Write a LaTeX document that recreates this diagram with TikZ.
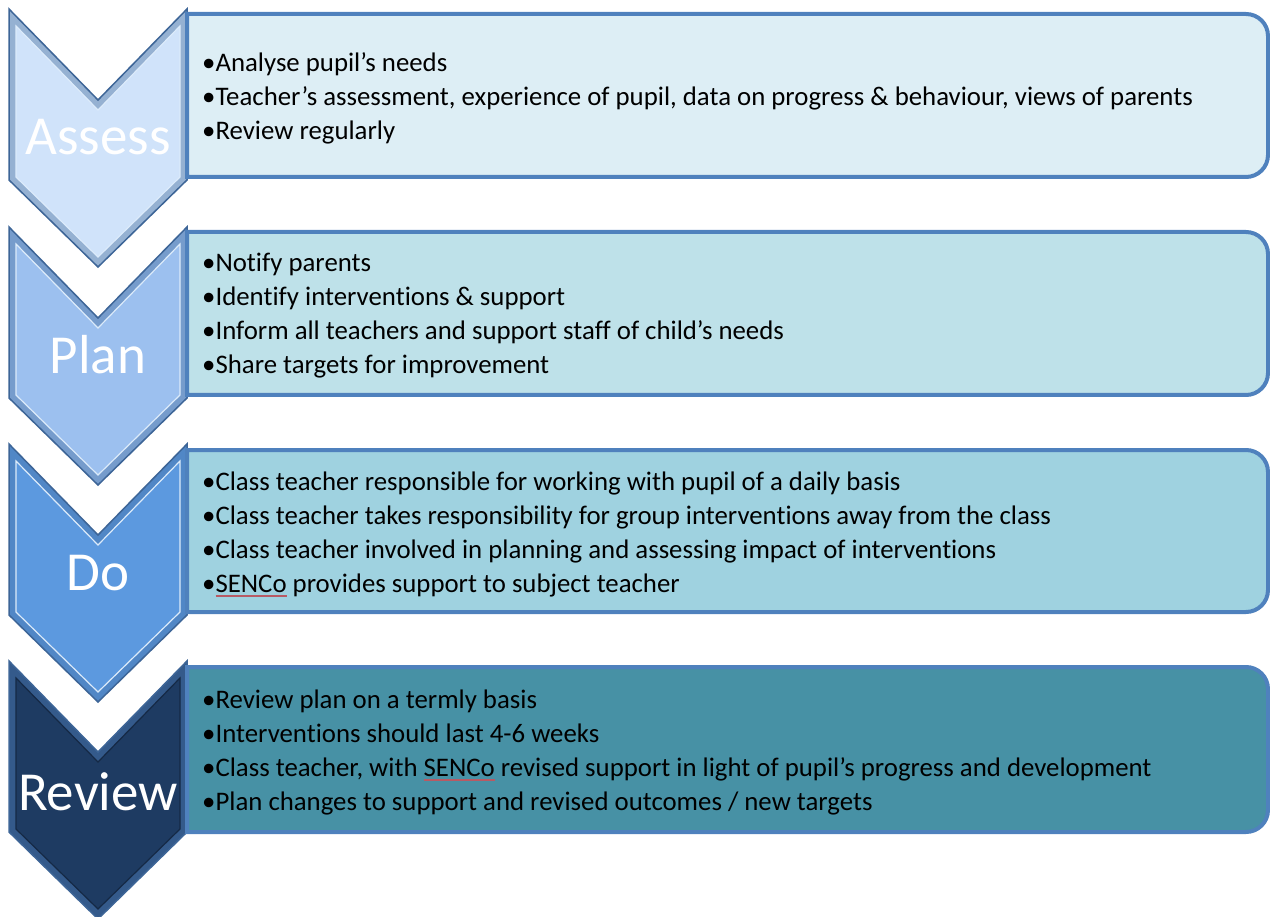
\documentclass[tikz,border=0pt]{standalone}
\usepackage{fontspec}
\setmainfont{Carlito}[Ligatures=CommonOff]
\definecolor{rimdark}{HTML}{3D6597}
\definecolor{rimlight}{HTML}{DCEBFA}
\definecolor{boxline}{HTML}{4F81BD}
\definecolor{assessfill}{HTML}{D0E3FA}
\definecolor{planfill}{HTML}{9CC0EF}
\definecolor{dofill}{HTML}{5C99DF}
\definecolor{reviewfill}{HTML}{1E3B62}
\definecolor{assessbox}{HTML}{DDEEF5}
\definecolor{planbox}{HTML}{BEE1E9}
\definecolor{dobox}{HTML}{9FD2E0}
\definecolor{reviewbox}{HTML}{4791A5}
\definecolor{spellred}{HTML}{B85A64}
\newcommand{\spellmark}[1]{\setbox0\hbox{#1}\rlap{\color{spellred}\rule[-4.5pt]{\wd0}{1.4pt}}\box0\relax}
\begin{document}
\begin{tikzpicture}[x=1pt,y=-1pt,
	chevron/.style={draw=rimdark,line width=1.5pt,line join=miter},
	chevroninner/.style={draw=rimlight,line width=1.2pt,line join=miter},
	stepbox/.style={draw=boxline,line width=4pt},
	steplabel/.style={text=white,font=\fontsize{55}{60}\selectfont,inner sep=0pt},
	steptext/.style={anchor=west,align=left,inner sep=0pt,font=\fontsize{26.8}{34}\selectfont}]
	\useasboundingbox (0,0) rectangle (1270,917);

	% Assess
	\draw[chevron,fill=assessfill!60!rimdark] (9,9) -- (98,100) -- (187,9) -- (187,180) -- (98,267) -- (9,180) -- cycle;
	\draw[chevroninner,fill=assessfill] (16,26) -- (98,110) -- (180,26) -- (180,177) -- (98,257) -- (16,177) -- cycle;
	\node[steplabel] (assess) at (98,137) {Assess};

	% Plan
	\draw[chevron,fill=planfill!60!rimdark] (9,227) -- (98,318) -- (187,227) -- (187,398) -- (98,485) -- (9,398) -- cycle;
	\draw[chevroninner,fill=planfill] (16,244) -- (98,328) -- (180,244) -- (180,395) -- (98,475) -- (16,395) -- cycle;
	\node[steplabel] (plan) at (98,355) {Plan};

	% Do
	\draw[chevron,fill=dofill!65!rimdark] (9,444) -- (98,535) -- (187,444) -- (187,615) -- (98,702) -- (9,615) -- cycle;
	\draw[chevroninner,fill=dofill] (16,461) -- (98,545) -- (180,461) -- (180,612) -- (98,692) -- (16,612) -- cycle;
	\node[steplabel] (do) at (98,573) {Do};

	% Review
	\draw[chevron,fill=reviewfill!55!boxline] (9,661) -- (98,752) -- (187,661) -- (187,832) -- (98,919) -- (9,832) -- cycle;
	\draw[draw=reviewfill!70!black,line width=1.2pt,fill=reviewfill] (16,678) -- (98,762) -- (180,678) -- (180,829) -- (98,909) -- (16,829) -- cycle;
	\node[steplabel] (review) at (98,792) {Review};

	% boxes, square on the left, rounded on the right
	\draw[stepbox,fill=assessbox] (187,177) -- (187,14) -- (1246,14) arc[start angle=90,end angle=0,radius=22pt] -- (1268,155) arc[start angle=0,end angle=-90,radius=22pt] -- cycle;
	\draw[stepbox,fill=planbox] (187,395) -- (187,232) -- (1246,232) arc[start angle=90,end angle=0,radius=22pt] -- (1268,373) arc[start angle=0,end angle=-90,radius=22pt] -- cycle;
	\draw[stepbox,fill=dobox] (187,612) -- (187,450) -- (1246,450) arc[start angle=90,end angle=0,radius=22pt] -- (1268,590) arc[start angle=0,end angle=-90,radius=22pt] -- cycle;
	\draw[stepbox,fill=reviewbox] (187,832) -- (187,667) -- (1246,667) arc[start angle=90,end angle=0,radius=22pt] -- (1268,810) arc[start angle=0,end angle=-90,radius=22pt] -- cycle;

	\node[steptext] (assesstext) at (202,98) {•Analyse pupil’s needs\\•Teacher’s assessment, experience of pupil, data on progress \& behaviour, views of parents\\•Review regularly};
	\node[steptext] (plantext) at (202,316) {•Notify parents\\•Identify interventions \& support\\•Inform all teachers and support staff of child{\char39}s needs\\•Share targets for improvement};
	\node[steptext] (dotext) at (202,534) {•Class teacher responsible for working with pupil of a daily basis\\•Class teacher takes responsibility for group interventions away from the class\\•Class teacher involved in planning and assessing impact of interventions\\•\spellmark{SENCo} provides support to subject teacher};
	\node[steptext] (reviewtext) at (202,752) {•Review plan on a termly basis\\•Interventions should last 4-6 weeks\\•Class teacher, with \spellmark{SENCo} revised support in light of pupil’s progress and development\\•Plan changes to support and revised outcomes / new targets};
\end{tikzpicture}
\end{document}
